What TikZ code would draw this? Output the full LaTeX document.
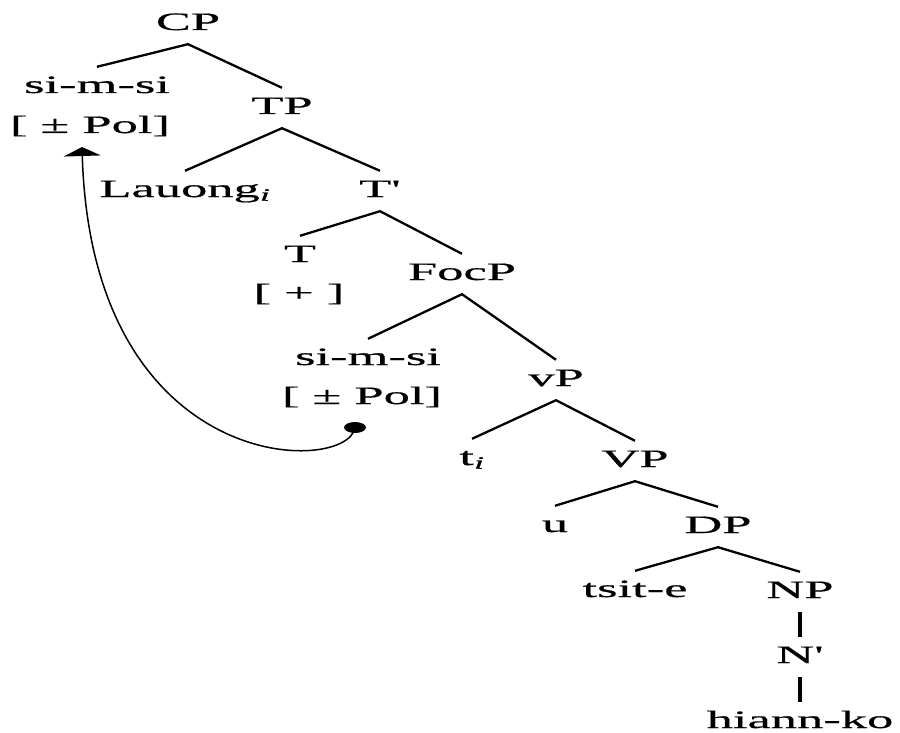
\documentclass[tikz,border=0pt]{standalone}
\usepackage{fontspec}
\setmainfont{Liberation Serif}[FakeStretch=2.1,FakeBold=0.6,Ligatures=TeXOff]
\usetikzlibrary{arrows.meta,shapes.geometric}
\begin{document}
\begin{tikzpicture}[x=1pt,y=-1pt,
  tn/.style={inner xsep=0pt,inner ysep=9pt,text height=17pt,text depth=5pt,anchor=base,
    font=\fontsize{25}{30}\selectfont},
  edge/.style={line width=2.3pt},
  vedge/.style={line width=4pt},
  move/.style={line width=1.5pt,-{Triangle[length=9pt,width=37pt]}}]
\useasboundingbox (0,0) rectangle (900,733);
\node[tn] (CP) at (188,30) {CP};
\node[tn] (si1) at (97,93) {si-m-si};
\node[tn] (pol1) at (90,133) {[ ± Pol]};
\node[tn] (TP) at (282,114) {TP};
\node[tn] (lau) at (185,197) {Lauong\textsubscript{\textit{i}}};
\node[tn] (Tb) at (380,197) {T'};
\node[tn] (T) at (300,262) {T};
\node[tn] (plus) at (299,301) {[ + ]};
\node[tn] (FocP) at (462,280) {FocP};
\node[tn] (si2) at (368,365) {si-m-si};
\node[tn] (pol2) at (362,404) {[ ± Pol]};
\node[tn] (vP) at (556,386) {vP};
\node[tn] (ti) at (472,465) {t\textsubscript{\textit{i}}};
\node[tn] (VP) at (635,467) {VP};
\node[tn] (u) at (555,532) {u};
\node[tn] (DP) at (718,533) {DP};
\node[tn] (tsit) at (635,597) {tsit-e};
\node[tn] (NP) at (800,598) {NP};
\node[tn] (Nb) at (800,663) {N'};
\node[tn] (hiann) at (800,728) {hiann-ko};
\draw[edge] (si1.north) -- (CP.south) -- (TP.north);
\draw[edge] (lau.north) -- (TP.south) -- (Tb.north);
\draw[edge] (T.north) -- (Tb.south) -- (FocP.north);
\draw[edge] (si2.north) -- (FocP.south) -- (vP.north);
\draw[edge] (ti.north) -- (vP.south) -- (VP.north);
\draw[edge] (u.north) -- (VP.south) -- (DP.north);
\draw[edge] (tsit.north) -- (DP.south) -- (NP.north);
\draw[vedge] (NP.south) -- (Nb.north);
\draw[vedge] (Nb.south) -- (hiann.north);
\node[fill=black,ellipse,minimum width=22pt,minimum height=11pt,inner sep=0pt] (dot) at (355,427.5) {};
\coordinate (tip) at (82,147);
\draw[move] (dot.center) .. controls (348,475) and (92,478) .. (tip);
\end{tikzpicture}
\end{document}
